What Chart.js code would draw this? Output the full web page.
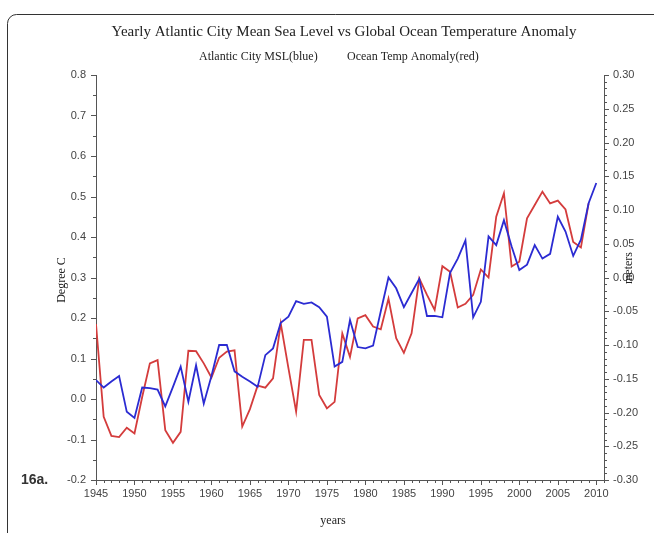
<!DOCTYPE html>
<html>
<head>
<meta charset="utf-8">
<script src="https://cdn.jsdelivr.net/npm/chart.js@4"></script>
<style>
  html, body { margin: 0; padding: 0; background: #fff; }
  #wrap { width: 654px; height: 533px; position: relative; }
</style>
</head>
<body>
<div id="wrap"><canvas id="chart"></canvas></div>
<script>
// years on the x axis (blue runs to 2010, red to 2009)
const years = [
    1945, 1946, 1947, 1948, 1949, 1950, 1951, 1952, 1953, 1954,
    1955, 1956, 1957, 1958, 1959, 1960, 1961, 1962, 1963, 1964,
    1965, 1966, 1967, 1968, 1969, 1970, 1971, 1972, 1973, 1974,
    1975, 1976, 1977, 1978, 1979, 1980, 1981, 1982, 1983, 1984,
    1985, 1986, 1987, 1988, 1989, 1990, 1991, 1992, 1993, 1994,
    1995, 1996, 1997, 1998, 1999, 2000, 2001, 2002, 2003, 2004,
    2005, 2006, 2007, 2008, 2009, 2010
];

// Atlantic City mean sea level, meters (right axis, blue)
const mslMeters = [
    -0.152, -0.163, -0.154, -0.146, -0.199, -0.208, -0.163, -0.164, -0.166, -0.191,
    -0.162, -0.132, -0.184, -0.130, -0.187, -0.146, -0.100, -0.100, -0.139, -0.147,
    -0.154, -0.162, -0.115, -0.105, -0.067, -0.058, -0.035, -0.039, -0.037, -0.044,
    -0.058, -0.132, -0.125, -0.063, -0.103, -0.105, -0.101, -0.050, 0.000, -0.016,
    -0.044, -0.023, -0.002, -0.057, -0.057, -0.059, 0.007, 0.028, 0.055, -0.059,
    -0.036, 0.061, 0.048, 0.085, 0.046, 0.011, 0.019, 0.048, 0.028, 0.035,
    0.090, 0.068, 0.032, 0.056, 0.110, 0.140
];

// global ocean temperature anomaly, degree C (left axis, red)
const tempAnomaly = [
    0.185, -0.044, -0.091, -0.094, -0.071, -0.085, 0.005, 0.088, 0.096, -0.077,
    -0.108, -0.081, 0.119, 0.118, 0.088, 0.053, 0.102, 0.117, 0.120, -0.068,
    -0.025, 0.033, 0.028, 0.051, 0.187, 0.076, -0.031, 0.146, 0.146, 0.010,
    -0.023, -0.007, 0.162, 0.104, 0.199, 0.207, 0.179, 0.172, 0.248, 0.150,
    0.114, 0.162, 0.298, 0.257, 0.220, 0.328, 0.314, 0.226, 0.235, 0.257,
    0.320, 0.300, 0.450, 0.508, 0.327, 0.339, 0.446, 0.479, 0.512, 0.483,
    0.490, 0.468, 0.388, 0.374, 0.483
];

// tick labels
const xTicks = [1945, 1950, 1955, 1960, 1965, 1970, 1975, 1980, 1985, 1990, 1995, 2000, 2005, 2010];
const leftTicks = [-0.2, -0.1, 0.0, 0.1, 0.2, 0.3, 0.4, 0.5, 0.6, 0.7, 0.8];
const rightTicks = [-0.30, -0.25, -0.20, -0.15, -0.10, -0.05, 0.00, 0.05, 0.10, 0.15, 0.20, 0.25, 0.30];

const axisColor = '#555';
const tickFont = { family: '"Liberation Sans", Arial, sans-serif', size: 11 };
const serif = '"Liberation Serif", "Times New Roman", serif';

const blueData = mslMeters.map((v, i) => ({ x: years[i], y: v }));
const redData = tempAnomaly.map((v, i) => ({ x: years[i], y: v }));

// minor/major tick marks and all the free text
const decorPlugin = {
    id: 'decor',
    afterDraw(chart) {
        const ctx = chart.ctx;
        const area = chart.chartArea;
        const sx = chart.scales.x, sy = chart.scales.y, sy1 = chart.scales.y1;
        ctx.save();
        ctx.strokeStyle = axisColor;
        ctx.lineWidth = 1;
        ctx.beginPath();
        for (let yr = 1945; yr <= 2011; yr++) {
            const px = Math.round(sx.getPixelForValue(yr)) + 0.5;
            const len = yr % 5 === 0 ? 5 : 3;
            ctx.moveTo(px, area.bottom);
            ctx.lineTo(px, area.bottom + len);
        }
        for (let k = -4; k <= 16; k++) {
            const py = Math.round(sy.getPixelForValue(k * 0.05)) + 0.5;
            const len = k % 2 === 0 ? 5 : 3;
            ctx.moveTo(area.left, py);
            ctx.lineTo(area.left - len, py);
        }
        for (let k = -30; k <= 30; k++) {
            const py = Math.round(sy1.getPixelForValue(k * 0.01)) + 0.5;
            const len = k % 5 === 0 ? 5 : 3;
            ctx.moveTo(area.right, py);
            ctx.lineTo(area.right + len, py);
        }
        ctx.stroke();

        // outer rounded frame, cut by the picture edge
        ctx.strokeStyle = '#333';
        ctx.beginPath();
        ctx.roundRect(7.5, 14.5, 700, 560, 9);
        ctx.stroke();

        ctx.fillStyle = '#222';
        ctx.textBaseline = 'middle';
        ctx.textAlign = 'center';
        ctx.font = '15px ' + serif;
        ctx.fillText('Yearly Atlantic City Mean Sea Level vs Global Ocean Temperature Anomaly', 344, 32);
        ctx.font = '12px ' + serif;
        ctx.textAlign = 'left';
        ctx.fillText('Atlantic City MSL(blue)', 199, 57);
        ctx.fillText('Ocean Temp Anomaly(red)', 347, 57);
        ctx.textAlign = 'center';
        ctx.fillText('years', 333, 521);

        ctx.save();
        ctx.translate(62, 280);
        ctx.rotate(-Math.PI / 2);
        ctx.fillText('Degree C', 0, 0);
        ctx.restore();
        ctx.save();
        ctx.translate(629, 268);
        ctx.rotate(-Math.PI / 2);
        ctx.fillText('meters', 0, 0);
        ctx.restore();

        ctx.fillStyle = '#333';
        ctx.textAlign = 'left';
        ctx.font = 'bold 14px "Liberation Sans", Arial, sans-serif';
        ctx.fillText('16a.', 21, 480);
        ctx.restore();
    }
};

new Chart(document.getElementById('chart'), {
    type: 'line',
    data: {
        datasets: [
            {
                label: 'Atlantic City MSL',
                data: blueData,
                yAxisID: 'y1',
                borderColor: '#2b2bd2',
                borderWidth: 1.8,
                pointRadius: 0,
                tension: 0,
                fill: false
            },
            {
                label: 'Ocean Temp Anomaly',
                data: redData,
                yAxisID: 'y',
                borderColor: '#d43c3c',
                borderWidth: 1.8,
                pointRadius: 0,
                tension: 0,
                fill: false
            }
        ]
    },
    options: {
        responsive: true,
        maintainAspectRatio: false,
        animation: false,
        layout: { padding: { top: 75, left: 0, right: 0, bottom: 0 } },
        plugins: {
            legend: { display: false },
            title: { display: false },
            tooltip: { enabled: false }
        },
        scales: {
            x: {
                type: 'linear',
                min: 1945,
                max: 2011,
                afterBuildTicks: (s) => { s.ticks = xTicks.map(v => ({ value: v })); },
                afterFit: (s) => { s.height = 53; },
                grid: { display: false, drawTicks: false },
                border: { display: true, color: axisColor, width: 1 },
                ticks: {
                    font: tickFont,
                    color: '#444',
                    padding: 7,
                    maxRotation: 0,
                    autoSkip: false,
                    callback: (v) => String(v)
                }
            },
            y: {
                position: 'left',
                min: -0.2,
                max: 0.8,
                afterBuildTicks: (s) => { s.ticks = leftTicks.map(v => ({ value: v })); },
                afterFit: (s) => { s.width = 96; },
                grid: { display: false, drawTicks: false },
                border: { display: true, color: axisColor, width: 1 },
                ticks: {
                    font: tickFont,
                    color: '#444',
                    padding: 10,
                    autoSkip: false,
                    callback: (v) => Number(v).toFixed(1)
                }
            },
            y1: {
                position: 'right',
                min: -0.3,
                max: 0.3,
                afterBuildTicks: (s) => { s.ticks = rightTicks.map(v => ({ value: v })); },
                afterFit: (s) => { s.width = 50; },
                grid: { display: false, drawTicks: false },
                border: { display: true, color: axisColor, width: 1 },
                ticks: {
                    font: tickFont,
                    color: '#444',
                    padding: 9,
                    autoSkip: false,
                    callback: (v) => Number(v).toFixed(2)
                }
            }
        }
    },
    plugins: [decorPlugin]
});
</script>
</body>
</html>
